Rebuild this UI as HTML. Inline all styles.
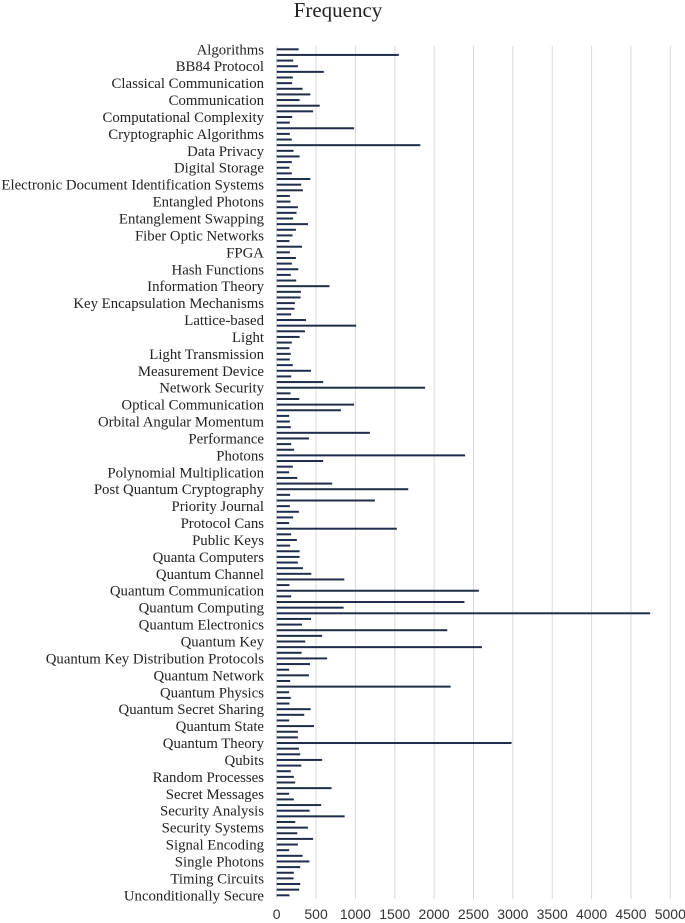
<!DOCTYPE html>
<html><head><meta charset="utf-8"><style>
html,body{margin:0;padding:0;background:#fff;}
svg{display:block;}
</style></head><body>
<svg id="chart" width="685" height="923" xmlns="http://www.w3.org/2000/svg">
<text x="338" y="17" font-family="Liberation Serif, serif" font-size="21" text-anchor="middle" fill="#222">Frequency</text>
<g id="grid"></g><g id="bars"></g><g id="ylabels"></g><g id="xlabels"></g>
</svg>
<script>
const categoryLabels = ["Algorithms","BB84 Protocol","Classical Communication","Communication","Computational Complexity","Cryptographic Algorithms","Data Privacy","Digital Storage","Electronic Document Identification Systems","Entangled Photons","Entanglement Swapping","Fiber Optic Networks","FPGA","Hash Functions","Information Theory","Key Encapsulation Mechanisms","Lattice-based","Light","Light Transmission","Measurement Device","Network Security","Optical Communication","Orbital Angular Momentum","Performance","Photons","Polynomial Multiplication","Post Quantum Cryptography","Priority Journal","Protocol Cans","Public Keys","Quanta Computers","Quantum Channel","Quantum Communication","Quantum Computing","Quantum Electronics","Quantum Key","Quantum Key Distribution Protocols","Quantum Network","Quantum Physics","Quantum Secret Sharing","Quantum State","Quantum Theory","Qubits","Random Processes","Secret Messages","Security Analysis","Security Systems","Signal Encoding","Single Photons","Timing Circuits","Unconditionally Secure"];
const frequencyValues = [278,1551,209,269,598,205,197,329,427,291,547,462,197,167,983,167,192,1825,214,291,192,162,192,427,312,
333,167,175,269,252,209,397,244,201,162,321,167,244,192,274,179,248,671,308,303,231,226,184,372,1009,359,
291,192,162,179,167,205,436,184,590,1885,175,286,983,816,158,167,179,1184,410,184,222,2393,590,205,158,
261,705,1671,171,1248,167,282,209,158,1526,184,256,171,291,291,269,333,440,859,162,2568,184,2385,850,4744,
436,321,2167,577,363,2607,316,641,423,158,410,171,2209,158,179,162,432,350,158,474,269,269,2983,282,299,577,
312,179,218,235,697,158,218,564,419,863,235,397,261,462,269,158,329,415,299,218,214,299,286,162];
const xTicks = [0,500,1000,1500,2000,2500,3000,3500,4000,4500,5000];

const NS="http://www.w3.org/2000/svg";
const x0=276.7, x1=670.3, xMax=5000;
const xScale=v=>x0+(v/xMax)*(x1-x0);
const yTop=49.3, step=5.64;
const yScale=i=>yTop+step*i;
const grid=document.getElementById('grid'), bars=document.getElementById('bars'),
      yl=document.getElementById('ylabels'), xl=document.getElementById('xlabels');
xTicks.forEach(t=>{
  const l=document.createElementNS(NS,'line');
  
  
  l.setAttribute('x1',xScale(t));l.setAttribute('x2',xScale(t));
  l.setAttribute('y1',46);l.setAttribute('y2',899);
  l.setAttribute('stroke','#d9d9d9');l.setAttribute('stroke-width','1');
  grid.appendChild(l);
  const tx=document.createElementNS(NS,'text');
  
  
  tx.setAttribute('x',xScale(t));tx.setAttribute('y',919);
  tx.setAttribute('text-anchor','middle');tx.setAttribute('font-family','Liberation Sans, sans-serif');
  tx.setAttribute('font-size','14');tx.setAttribute('fill','#333');
  tx.textContent=t;xl.appendChild(tx);
});
frequencyValues.forEach((v,i)=>{
  const r=document.createElementNS(NS,'rect');
  
  
  r.setAttribute('x',x0);r.setAttribute('y',yScale(i)-1);
  r.setAttribute('width',Math.max(0,xScale(v)-x0));r.setAttribute('height',2);
  r.setAttribute('fill','#1f2d4a');
  bars.appendChild(r);
});
categoryLabels.forEach((c,k)=>{
  const tx=document.createElementNS(NS,'text');
  
  
  tx.setAttribute('x',264);tx.setAttribute('y',yScale(k*3)+5);
  tx.setAttribute('text-anchor','end');tx.setAttribute('font-family','Liberation Serif, serif');
  tx.setAttribute('font-size','14.8');tx.setAttribute('fill','#222');
  tx.textContent=c;yl.appendChild(tx);
});
</script>
</body></html>
